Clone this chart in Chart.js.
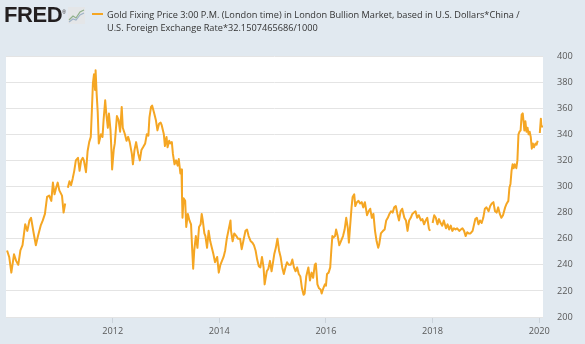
<!DOCTYPE html>
<html>
<head>
<meta charset="utf-8">
<title>Gold Fixing Price - FRED</title>
<script src="https://cdn.jsdelivr.net/npm/chart.js@4.4.0/dist/chart.umd.min.js"></script>
<style>
    html, body { margin: 0; padding: 0; }
    body {
        width: 585px;
        height: 344px;
        background: #e1e9f0;
        position: relative;
        overflow: hidden;
        font-family: "Open Sans", sans-serif;
    }
    #chart { position: absolute; left: 0; top: 0; }
    #logo {
        position: absolute; left: 4px; top: 2px;
        font-family: "Liberation Sans", Arial, sans-serif;
        font-weight: bold; font-size: 22px; color: #231f20;
        letter-spacing: -0.4px;
    }
    #logo sup { font-size: 5px; font-weight: normal; letter-spacing: 0; }
    #icon { position: absolute; left: 68px; top: 7px; }
    #swatch { position: absolute; left: 92px; top: 13px; width: 11px; height: 2px; background: #f5a623; }
    #title {
        position: absolute; left: 107px; top: 8px;
        font-size: 9.2px; line-height: 13.3px; color: #333;
        white-space: nowrap;
    }
</style>
</head>
<body>
<canvas id="chart" width="585" height="344"></canvas>
<div id="logo">FRED<sup>®</sup></div>
<svg id="icon" width="17" height="17" viewBox="0 0 17 17">
    <rect x="0" y="0" width="17" height="17" fill="#e4e6e8"/>
    <polyline points="1,13 5,9 8,11 12,5 16,3" fill="none" stroke="#8fb08a" stroke-width="1.2"/>
    <polyline points="1,15 5,12 8,13 12,8 16,6" fill="none" stroke="#9fb3c8" stroke-width="1.2"/>
</svg>
<div id="swatch"></div>
<div id="title">Gold Fixing Price 3:00 P.M. (London time) in London Bullion Market, based in U.S. Dollars*China /<br>U.S. Foreign Exchange Rate*32.1507465686/1000</div>

<script>
"use strict"

// DATES AS DECIMAL YEARS (null = MISSING DATA GAP)
const years = [
    2010.02, 2010.06, 2010.10, 2010.15, 2010.19, 2010.23, 2010.27, 2010.31, 2010.36, 2010.40,
    2010.44, 2010.47, 2010.52, 2010.56, 2010.60, 2010.65, 2010.69, 2010.73, 2010.77, 2010.81,
    2010.85, 2010.88, 2010.91, 2010.94, 2010.97, 2011.00, 2011.05, 2011.08, 2011.11, 2011.13,
    2011.16, 2011.19, 2011.22, 2011.25, 2011.28, 2011.31, 2011.35, 2011.38, 2011.41, 2011.44,
    2011.46, 2011.50, 2011.53, 2011.56, 2011.59, 2011.61, 2011.63, 2011.65, 2011.67, 2011.68,
    2011.70, 2011.72, 2011.74, 2011.78, 2011.81, 2011.83, 2011.86, 2011.88, 2011.91, 2011.93,
    2011.96, 2011.98, 2011.99, 2012.02, 2012.04, 2012.08, 2012.11, 2012.14, 2012.17, 2012.19,
    2012.23, 2012.26, 2012.29, 2012.32, 2012.36, 2012.38, 2012.41, 2012.44, 2012.48, 2012.51,
    2012.54, 2012.57, 2012.61, 2012.64, 2012.67, 2012.69, 2012.72, 2012.74, 2012.78, 2012.81,
    2012.84, 2012.87, 2012.90, 2012.92, 2012.96, 2012.98, 2013.01, 2013.03, 2013.06, 2013.08,
    2013.11, 2013.13, 2013.16, 2013.19, 2013.22, 2013.24, 2013.27, 2013.29, 2013.30, 2013.31,
    2013.33, 2013.36, 2013.38, 2013.41, 2013.44, 2013.47, 2013.49, 2013.51, 2013.53, 2013.56,
    2013.59, 2013.62, 2013.65, 2013.67, 2013.69, 2013.72, 2013.74, 2013.77, 2013.80, 2013.83,
    2013.86, 2013.89, 2013.92, 2013.96, 2013.99, 2014.02, 2014.05, 2014.08, 2014.11, 2014.14,
    2014.17, 2014.21, 2014.22, 2014.25, 2014.28, 2014.32, 2014.35, 2014.39, 2014.42, 2014.45,
    2014.49, 2014.52, 2014.55, 2014.59, 2014.62, 2014.65, 2014.68, 2014.71, 2014.74, 2014.77,
    2014.80, 2014.83, 2014.85, 2014.89, 2014.92, 2014.95, 2014.98, 2015.00, 2015.03, 2015.06,
    2015.09, 2015.12, 2015.15, 2015.18, 2015.21, 2015.24, 2015.27, 2015.30, 2015.34, 2015.37,
    2015.40, 2015.43, 2015.46, 2015.49, 2015.52, 2015.55, 2015.58, 2015.60, 2015.63, 2015.67,
    2015.70, 2015.73, 2015.76, 2015.79, 2015.81, 2015.84, 2015.87, 2015.90, 2015.92, 2015.95,
    2015.98, 2016.00, 2016.02, 2016.05, 2016.08, 2016.10, 2016.12, 2016.14, 2016.17, 2016.19,
    2016.22, 2016.25, 2016.28, 2016.32, 2016.35, 2016.38, 2016.41, 2016.43, 2016.45, 2016.48,
    2016.50, 2016.53, 2016.55, 2016.58, 2016.61, 2016.64, 2016.67, 2016.70, 2016.73, 2016.77,
    2016.80, 2016.83, 2016.86, 2016.89, 2016.92, 2016.95, 2016.98, 2017.00, 2017.03, 2017.07,
    2017.10, 2017.13, 2017.16, 2017.19, 2017.22, 2017.25, 2017.28, 2017.31, 2017.34, 2017.37,
    2017.40, 2017.43, 2017.47, 2017.50, 2017.53, 2017.56, 2017.59, 2017.62, 2017.65, 2017.68,
    2017.71, 2017.74, 2017.78, 2017.81, 2017.84, 2017.87, 2017.90, 2017.93, 2017.95, 2017.97,
    2018.00, 2018.03, 2018.06, 2018.09, 2018.12, 2018.15, 2018.18, 2018.21, 2018.25, 2018.28,
    2018.31, 2018.34, 2018.37, 2018.40, 2018.43, 2018.46, 2018.50, 2018.53, 2018.56, 2018.59,
    2018.62, 2018.65, 2018.68, 2018.71, 2018.75, 2018.80, 2018.83, 2018.86, 2018.89, 2018.92,
    2018.95, 2018.98, 2019.01, 2019.05, 2019.08, 2019.11, 2019.14, 2019.17, 2019.20, 2019.23,
    2019.26, 2019.29, 2019.32, 2019.36, 2019.39, 2019.42, 2019.44, 2019.46, 2019.48, 2019.50,
    2019.52, 2019.54, 2019.57, 2019.59, 2019.61, 2019.63, 2019.65, 2019.67, 2019.69, 2019.71,
    2019.72, 2019.74, 2019.76, 2019.78, 2019.80, 2019.82, 2019.84, 2019.86, 2019.88, 2019.90,
    2019.93, 2019.95, 2019.97, 2019.99, 2020.01, 2020.03, 2020.04, 2020.07
];

// PRICE VALUES
const prices = [
    251, 246, 234, 248, 243, 240, 251, 255, 271, 266,
    274, 276, 264, 255, 262, 270, 274, 279, 292, 293,
    289, 303, 294, 299, 303, 297, 293, 280, 287, null,
    299, 304, 301, 306, 312, 320, 322, 312, 320, 322,
    320, 311, 327, 334, 338, 358, 379, 386, 374, 389,
    371, 357, 333, 340, 338, 351, 366, 356, 345, 356,
    343, 325, 313, 328, 333, 354, 351, 342, 361, 345,
    340, 335, 338, 334, 325, 317, 328, 334, 325, 320,
    328, 330, 333, 340, 339, 353, 361, 362, 356, 351,
    343, 348, 349, 347, 340, 331, 338, 330, 335, 333,
    334, 325, 317, 320, 316, 321, 310, 313, 294, 276,
    291, 289, 269, 279, 274, 271, 253, 237, 251, 262,
    253, 269, 271, 279, 274, 264, 262, 253, 266, 258,
    253, 248, 242, 246, 234, 240, 243, 246, 251, 260,
    266, 274, 266, 258, 264, 262, 260, 260, 252, 258,
    266, 267, 262, 258, 257, 255, 251, 244, 239, 238,
    246, 238, 225, 235, 237, 243, 235, 240, 248, 253,
    260, 251, 246, 238, 233, 238, 242, 240, 240, 244,
    238, 235, 238, 233, 231, 222, 217, 218, 231, 238,
    228, 234, 230, 240, 241, 225, 222, 221, 218, 222,
    225, 224, 233, 234, 238, 251, 262, 261, 262, 267,
    262, 255, 258, 262, 267, 276, 268, 257, 268, 284,
    292, 294, 285, 288, 289, 287, 288, 284, 288, 278,
    281, 283, 276, 279, 266, 258, 253, 256, 264, 266,
    267, 274, 276, 279, 281, 280, 284, 285, 279, 274,
    281, 283, 276, 274, 266, 274, 276, 279, 280, 281,
    276, 278, 274, 275, 271, 274, 276, 268, 266, null,
    272, 278, 276, 271, 275, 272, 270, 274, 268, 271,
    267, 270, 266, 268, 267, 268, 266, 267, 268, 266,
    262, 265, 264, 264, 266, 275, 276, 271, 274, 272,
    276, 283, 284, 281, 285, 287, 288, 281, 280, 284,
    279, 276, 278, 284, 287, 289, 299, 302, 312, 317,
    314, 317, 314, 320, 340, 342, 343, 355, 356, 348,
    343, 350, 342, 345, 340, 342, 338, 329, 333, 330,
    333, 332, 335, null, 341, 352, 346, 346
];

// AXIS TICKS
const xTickYears = [2012, 2014, 2016, 2018, 2020];
const yTicks = [200, 220, 240, 260, 280, 300, 320, 340, 360, 380, 400];

const points = years.map((x, i) => ({ x: x, y: prices[i] }));

// WHITE PLOT BACKGROUND
const plotBackground = {
    id: 'plotBackground',
    beforeDraw(chart) {
        const { ctx, chartArea } = chart;
        ctx.save();
        ctx.fillStyle = '#ffffff';
        ctx.fillRect(chartArea.left, chartArea.top, chartArea.right - chartArea.left, chartArea.bottom - chartArea.top);
        ctx.restore();
    }
};

const tickFont = { family: 'Open Sans', size: 9.2 };

let myChart = new Chart(document.getElementById('chart'), {
    type: 'line',
    data: {
        datasets: [{
            data: points,
            borderColor: '#f5a623',
            borderWidth: 2,
            pointRadius: 0,
            tension: 0,
            spanGaps: false,
            borderJoinStyle: 'round'
        }]
    },
    options: {
        responsive: false,
        animation: false,
        layout: { padding: { top: 56, left: 6, right: 0, bottom: 0 } },
        plugins: {
            legend: { display: false },
            tooltip: { enabled: false }
        },
        scales: {
            x: {
                type: 'linear',
                min: 2010,
                max: 2020.07,
                afterBuildTicks: (scale) => { scale.ticks = xTickYears.map(v => ({ value: v })); },
                afterFit: (scale) => { scale.height = 27; },
                ticks: {
                    callback: (v) => String(v),
                    color: '#595959',
                    font: tickFont,
                    padding: 3,
                    maxRotation: 0,
                    autoSkip: false
                },
                grid: { drawOnChartArea: false, tickLength: 6, color: '#cbd3db' },
                border: { display: false }
            },
            y: {
                position: 'right',
                min: 200,
                max: 400,
                afterBuildTicks: (scale) => { scale.ticks = yTicks.map(v => ({ value: v })); },
                afterFit: (scale) => { scale.width = 42; },
                ticks: { color: '#595959', font: tickFont, padding: 14 },
                grid: { color: '#e4e4e4', drawTicks: false },
                border: { display: false }
            }
        }
    },
    plugins: [plotBackground]
});
</script>
</body>
</html>
